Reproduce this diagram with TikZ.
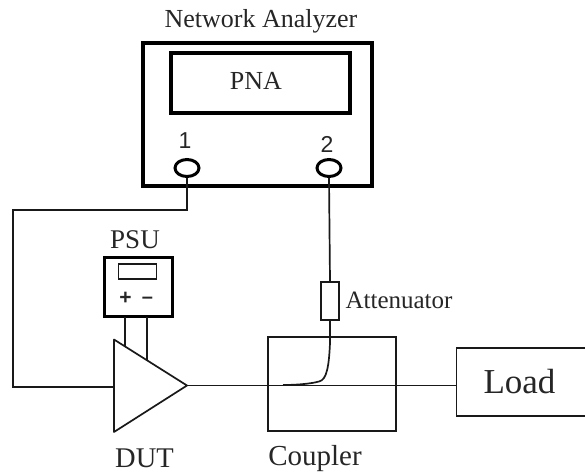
\documentclass[tikz,border=0pt]{standalone}
\usepackage{fontspec}
\usetikzlibrary{shapes.geometric}
\setmainfont{Liberation Serif}
\newfontfamily\labelsans{Liberation Sans}
\begin{document}
\begin{tikzpicture}[x=1pt,y=-1pt,
  wire/.style={line width=1.7pt,black!90},
  thick box/.style={draw,line width=3.2pt,inner sep=0pt},
  thin box/.style={draw,line width=1.8pt,black!90,fill=white,inner sep=0pt},
  port/.style={draw,line width=3pt,ellipse,minimum width=24pt,minimum height=17pt,inner sep=0pt},
  lbl/.style={inner sep=0pt,anchor=base,font=\fontsize{26}{28}\selectfont,black!85},
  plab/.style={inner sep=0pt,anchor=base,font=\labelsans\fontsize{23}{25}\selectfont,black!85}]
\useasboundingbox (0,0) rectangle (585,473);
\node[thick box,minimum width=229pt,minimum height=143pt] (pna) at (257.5,114.5) {};
\node[thick box,minimum width=179pt,minimum height=60pt] (screen) at (260.5,83) {};
\node[lbl] (pnatext) at (256,90) {PNA};
\node[lbl] (title) at (261,28) {Network Analyzer};
\node[port] (p1) at (187,168) {};
\node[port] (p2) at (329,168) {};
\node[plab] (n1) at (185,148) {1};
\node[plab] (n2) at (327,152) {2};
\node[thick box,line width=3pt,minimum width=68pt,minimum height=59pt] (psu) at (138,286.5) {};
\node[thin box,minimum width=38pt,minimum height=15pt] (disp) at (137.5,271.5) {};
\node[plab,font=\labelsans\bfseries\fontsize{21}{23}\selectfont] (plus) at (125.5,304) {+};
\node[plab,font=\labelsans\bfseries\fontsize{20}{22}\selectfont] (minus) at (147.5,303) {–};
\node[lbl,font=\fontsize{27}{29}\selectfont] (psutext) at (135,248) {PSU};
\coordinate (ta) at (114,339.5);
\coordinate (tb) at (114,432);
\coordinate (tc) at (187,385.5);
\coordinate (pa) at (125,346.5);
\coordinate (pb) at (147,360.5);
\draw[wire] (125,317) -- (pa);
\draw[wire] (147,317) -- (pb);
\draw[wire,line join=round] (ta) -- (tb) -- (tc) -- cycle;
\node[lbl,font=\fontsize{28.5}{30}\selectfont] (dut) at (144.5,467) {DUT};
\coordinate (c1) at (187,210);
\coordinate (c2) at (13,210);
\coordinate (c3) at (13,387);
\draw[wire] (p1.south) -- (c1) -- (c2) -- (c3) -- (114,387);
\node[thin box,minimum width=18pt,minimum height=38pt] (att) at (330,301) {};
\node[lbl,font=\fontsize{25}{27}\selectfont] (atttext) at (399,308) {Attenuator};
\draw[wire] (p2.south) -- (att.north);
\node[thin box,fill=none,minimum width=128pt,minimum height=94pt] (coupler) at (332,384) {};
\node[lbl,font=\fontsize{29}{31}\selectfont] (couptext) at (315,465) {Coupler};
\node[thin box,anchor=west,minimum width=135pt,minimum height=68pt] (load) at (455.5,382) {};
\node[lbl,font=\fontsize{35}{37}\selectfont] (loadtext) at (519.5,393) {Load};
\draw[wire] (tc) -- (load.west |- 0,385.5);
\draw[wire] (att.south) -- (330,343) .. controls (329,365) and (327,380) .. (319,381.5) .. controls (310,384) and (295,385) .. (283,385);
\end{tikzpicture}
\end{document}
